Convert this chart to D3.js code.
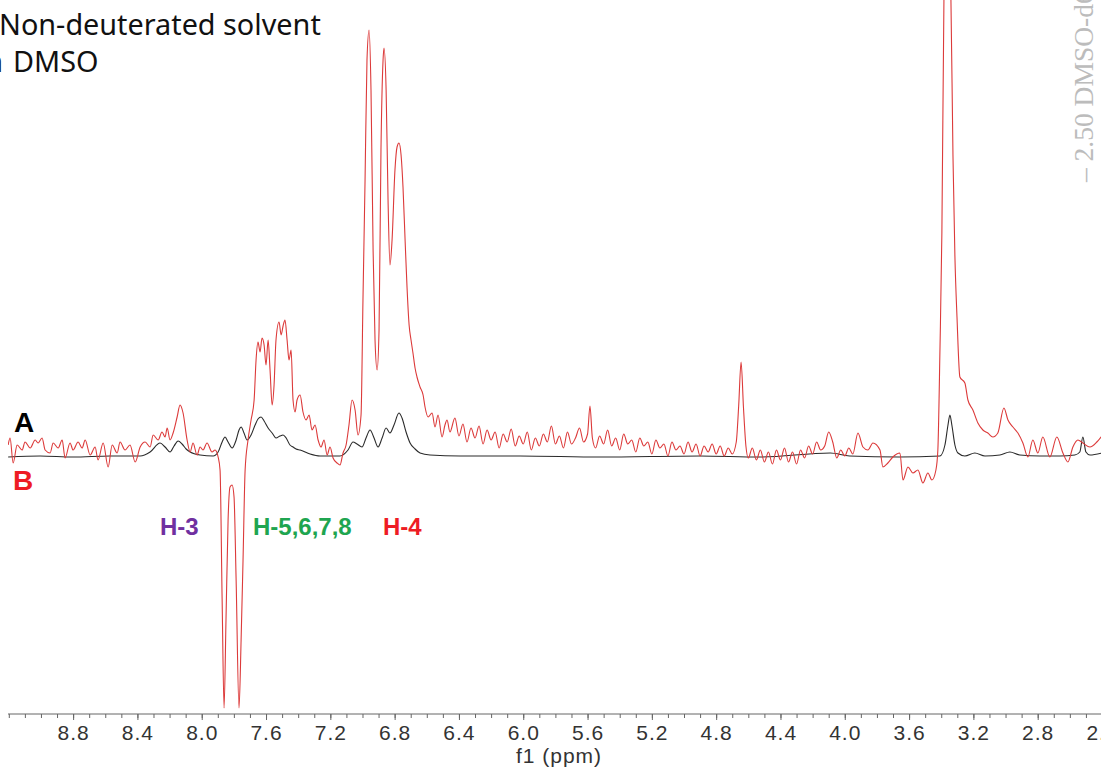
<!DOCTYPE html>
<html><head><meta charset="utf-8">
<script src="https://cdn.jsdelivr.net/npm/d3@7"></script>
<style>body{margin:0;background:#fff}svg{display:block}</style>
</head><body>
<svg id="c" width="1101" height="769"></svg>
<script>
// ---- data: [ppm, intensity] ----
const redSpectrum = [
[9.204,11],[9.192,18],[9.173,-7],[9.148,11],[9.117,6],[9.099,14],[9.067,8],[9.036,16],[9.018,13],[8.993,18],[8.974,6],[8.943,3],[8.924,13],[8.893,8],[8.868,16],[8.850,-2],[8.819,13],[8.800,6],[8.769,14],[8.744,8],[8.725,16],[8.694,1],[8.663,9],[8.645,-4],[8.613,13],[8.582,-11],[8.557,11],[8.526,3],[8.508,14],[8.477,6],[8.446,11],[8.414,-6],[8.383,9],[8.352,14],[8.321,9],[8.302,21],[8.271,16],[8.247,24],[8.228,19],[8.215,28],[8.197,16],[8.178,23],[8.153,39],[8.135,51],[8.116,43],[8.091,16],[8.072,4],[8.054,13],[8.029,1],[8.010,9],[7.992,6],[7.967,13],[7.936,4],[7.917,6],[7.898,-1],[7.886,-14],[7.873,-144],[7.861,-252],[7.849,-164],[7.836,-64],[7.824,-31],[7.811,-29],[7.799,-41],[7.786,-124],[7.768,-252],[7.755,-184],[7.743,-104],[7.730,-14],[7.712,16],[7.693,36],[7.674,56],[7.662,96],[7.650,114],[7.637,104],[7.625,118],[7.612,111],[7.600,91],[7.587,116],[7.575,86],[7.562,51],[7.550,71],[7.538,116],[7.519,134],[7.506,121],[7.494,130],[7.482,136],[7.469,116],[7.457,96],[7.444,106],[7.432,56],[7.419,44],[7.407,56],[7.388,61],[7.370,44],[7.351,36],[7.332,41],[7.314,26],[7.295,31],[7.276,16],[7.258,9],[7.239,16],[7.220,1],[7.202,9],[7.183,-2],[7.158,-7],[7.140,-9],[7.121,3],[7.102,11],[7.084,31],[7.065,56],[7.046,46],[7.028,21],[7.009,41],[6.997,156],[6.984,276],[6.972,396],[6.959,426],[6.947,366],[6.934,206],[6.922,116],[6.909,86],[6.897,126],[6.885,306],[6.872,396],[6.866,408],[6.853,366],[6.841,256],[6.829,191],[6.816,216],[6.798,286],[6.785,309],[6.773,313],[6.760,301],[6.748,269],[6.735,216],[6.723,169],[6.710,131],[6.698,116],[6.686,103],[6.673,88],[6.661,79],[6.642,69],[6.623,61],[6.611,49],[6.592,39],[6.567,43],[6.549,29],[6.530,41],[6.505,19],[6.487,31],[6.474,36],[6.456,24],
[6.425,38],[6.400,20],[6.375,32],[6.350,14],[6.325,28],[6.300,18],[6.275,30],[6.250,12],[6.225,26],[6.200,16],[6.175,24],[6.150,8],[6.125,22],[6.100,14],[6.075,27],[6.050,10],[6.025,20],[6.000,12],[5.975,24],[5.950,6],[5.925,18],[5.900,10],[5.875,22],[5.850,14],[5.825,30],[5.800,12],[5.775,20],[5.750,8],[5.725,24],[5.700,12],[5.675,18],[5.650,28],[5.625,14],[5.600,22],[5.585,50],[5.570,18],[5.550,8],[5.525,20],[5.500,12],[5.475,26],[5.450,10],[5.425,18],[5.400,6],[5.375,22],[5.350,12],[5.325,16],[5.300,4],[5.275,18],[5.250,10],[5.225,14],[5.200,2],[5.175,16],[5.150,8],[5.125,12],[5.100,0],[5.075,14],[5.050,6],[5.025,10],[5.000,2],[4.975,14],[4.950,4],[4.925,12],[4.900,0],[4.875,10],[4.850,4],[4.825,12],[4.800,2],[4.775,10],[4.750,0],[4.725,8],[4.700,2],[4.675,14],[4.660,50],[4.645,94],[4.630,48],[4.615,10],[4.600,-2],[4.575,8],[4.550,-4],[4.525,6],[4.500,-6],[4.475,4],[4.450,-8],[4.425,6],[4.400,-4],[4.375,8],[4.350,-6],[4.325,4],[4.300,-8],[4.275,6],[4.250,-2],[4.225,10],[4.200,2],[4.175,14],[4.150,6],[4.125,10],[4.100,24],[4.075,14],[4.050,-2],[4.025,6],[4.000,0],[3.975,8],[3.950,2],
[3.918,23],[3.887,9],[3.856,6],[3.825,13],[3.781,6],[3.763,-11],[3.732,-7],[3.701,-1],[3.657,3],[3.638,-24],[3.607,-11],[3.576,-17],[3.545,-14],[3.514,-27],[3.483,-17],[3.458,-24],[3.433,-14],[3.421,6],[3.408,106],[3.396,223],[3.383,460],[3.365,560],[3.340,460],[3.327,300],[3.315,200],[3.302,139],[3.284,79],[3.253,73],[3.234,56],[3.203,46],[3.172,33],[3.141,26],[3.110,23],[3.079,19],[3.048,23],[3.010,48],[2.985,36],[2.954,29],[2.923,23],[2.892,13],[2.861,-1],[2.830,16],[2.799,3],[2.768,19],[2.724,-1],[2.681,19],[2.643,3],[2.612,-6],[2.581,9],[2.550,16],[2.519,13],[2.475,9],[2.432,14],[2.401,20]
];
const blackSpectrum = [
[9.204,-1],[9.005,0],[8.800,-1],[8.570,0],[8.383,0],[8.321,4],[8.259,13],[8.228,9],[8.197,4],[8.172,10],[8.147,15],[8.122,12],[8.097,7],[8.072,4],[8.010,1],[7.929,0],[7.898,4],[7.873,14],[7.855,19],[7.836,14],[7.811,8],[7.786,16],[7.768,26],[7.755,29],[7.737,23],[7.718,16],[7.693,21],[7.668,31],[7.650,37],[7.631,39],[7.612,35],[7.587,28],[7.562,23],[7.538,18],[7.513,20],[7.494,21],[7.475,18],[7.451,11],[7.432,9],[7.413,7],[7.388,6],[7.326,2],[7.264,0],[7.140,0],[7.090,6],[7.059,14],[7.034,12],[7.003,9],[6.978,18],[6.953,26],[6.928,18],[6.903,9],[6.878,18],[6.853,28],[6.829,23],[6.804,31],[6.773,43],[6.754,38],[6.729,24],[6.704,13],[6.673,7],[6.642,3],[6.580,1],[6.393,0],[6.020,0],[5.520,-1],[4.900,0],[4.530,-1],[4.090,3],[3.970,0],[3.660,-1],[3.408,0],[3.377,11],[3.358,31],[3.346,41],[3.334,31],[3.315,11],[3.296,3],[3.253,0],[3.191,3],[3.128,0],[3.035,1],[2.973,4],[2.911,1],[2.786,0],[2.662,0],[2.569,1],[2.538,4],[2.519,19],[2.500,4],[2.475,1],[2.401,3]
];
const majorTicks = [8.8,8.4,8.0,7.6,7.2,6.8,6.4,6.0,5.6,5.2,4.8,4.4,4.0,3.6,3.2,2.8,2.4];
const minorTicks = [9.2,9.1,9.0,8.9,8.8,8.7,8.6,8.5,8.4,8.3,8.2,8.1,8.0,7.9,7.8,7.7,7.6,7.5,7.4,7.3,7.2,7.1,7.0,6.9,6.8,6.7,6.6,6.5,6.4,6.3,6.2,6.1,6.0,5.9,5.8,5.7,5.6,5.5,5.4,5.3,5.2,5.1,5.0,4.9,4.8,4.7,4.6,4.5,4.4,4.3,4.2,4.1,4.0,3.9,3.8,3.7,3.6,3.5,3.4,3.3,3.2,3.1,3.0,2.9,2.8,2.7,2.6,2.5,2.4];
const titleLines = ["Non-deuterated solvent","in","DMSO"];
const solventNote = "\u2013 2.50 DMSO-d6";
const traceLabels = [{t:"A",c:"#000"},{t:"B",c:"#ee1c24"}];
const peakLabels = [{t:"H-3",c:"#7030a0"},{t:"H-5,6,7,8",c:"#1fa550"},{t:"H-4",c:"#ee1c24"}];

// ---- drawing ----
const svg = d3.select("#c");
const x = d3.scaleLinear().domain([9.205, 2.40]).range([8, 1102]);
const y = d3.scaleLinear().domain([-260, 460]).range([716, -4]);

svg.append("defs").append("clipPath").attr("id","plot")
  .append("rect").attr("x",8).attr("y",0).attr("width",1093).attr("height",710);

const line = d3.line().x(d=>x(d[0])).y(d=>y(d[1])).curve(d3.curveMonotoneX);
const g = svg.append("g").attr("clip-path","url(#plot)");
g.append("path").datum(blackSpectrum).attr("d",line)
  .attr("fill","none").attr("stroke","#2a2a2a").attr("stroke-width",1.1);
g.append("path").datum(redSpectrum).attr("d",line)
  .attr("fill","none").attr("stroke","#dc3a3a").attr("stroke-width",1.1);

// axis
const ax = svg.append("g").attr("transform","translate(0,714)");
ax.call(d3.axisBottom(x).tickValues(minorTicks).tickSize(4).tickFormat(""));
ax.call(g2=>g2.select(".domain").remove());
const ax2 = svg.append("g").attr("transform","translate(0,714)");
ax2.call(d3.axisBottom(x).tickValues(majorTicks).tickSize(6).tickPadding(5).tickFormat(d3.format(".1f")));
ax2.select(".domain").attr("d","M8,0H1101").attr("stroke","#666");
ax2.selectAll(".tick line").attr("stroke","#666");
ax.selectAll(".tick line").attr("stroke","#666");
ax2.selectAll(".tick text").attr("font-family","Liberation Sans, Arial, sans-serif")
  .attr("font-size",21).attr("fill","#333").style("letter-spacing","1px");
svg.append("text").attr("x",559).attr("y",763).attr("text-anchor","middle")
  .attr("font-family","Liberation Sans, Arial, sans-serif").attr("font-size",21).attr("fill","#333")
  .style("letter-spacing","1px").text("f1 (ppm)");

// title
svg.append("text").attr("x",-1).attr("y",35).attr("font-family","Noto Sans, sans-serif")
  .attr("font-size",28.8).attr("fill","#111").text(titleLines[0]);
svg.append("text").attr("x",3).attr("y",72).attr("text-anchor","end").attr("font-family","Noto Sans, sans-serif")
  .attr("font-size",28.8).attr("fill","#111").text(titleLines[1]);
svg.append("text").attr("x",13).attr("y",72).attr("font-family","Noto Sans, sans-serif")
  .attr("font-size",28.8).attr("fill","#111").text(titleLines[2]);

// solvent annotation
svg.append("text").attr("transform","translate(1093,182) rotate(-90)")
  .attr("font-family","Liberation Serif, serif").attr("font-size",27.5).attr("fill","#bcbcbc")
  .text(solventNote);

// trace labels
svg.append("text").attr("x",14).attr("y",432).attr("font-family","Liberation Sans, Arial, sans-serif")
  .attr("font-weight","bold").attr("font-size",28).attr("fill",traceLabels[0].c).text(traceLabels[0].t);
svg.append("text").attr("x",13).attr("y",490).attr("font-family","Liberation Sans, Arial, sans-serif")
  .attr("font-weight","bold").attr("font-size",28).attr("fill",traceLabels[1].c).text(traceLabels[1].t);

// peak labels
const px = [160,253,383];
peakLabels.forEach((p,i)=>{
  svg.append("text").attr("x",px[i]).attr("y",535).attr("font-family","Liberation Sans, Arial, sans-serif")
    .attr("font-weight","bold").attr("font-size",24).attr("fill",p.c).text(p.t);
});
</script>
</body></html>
